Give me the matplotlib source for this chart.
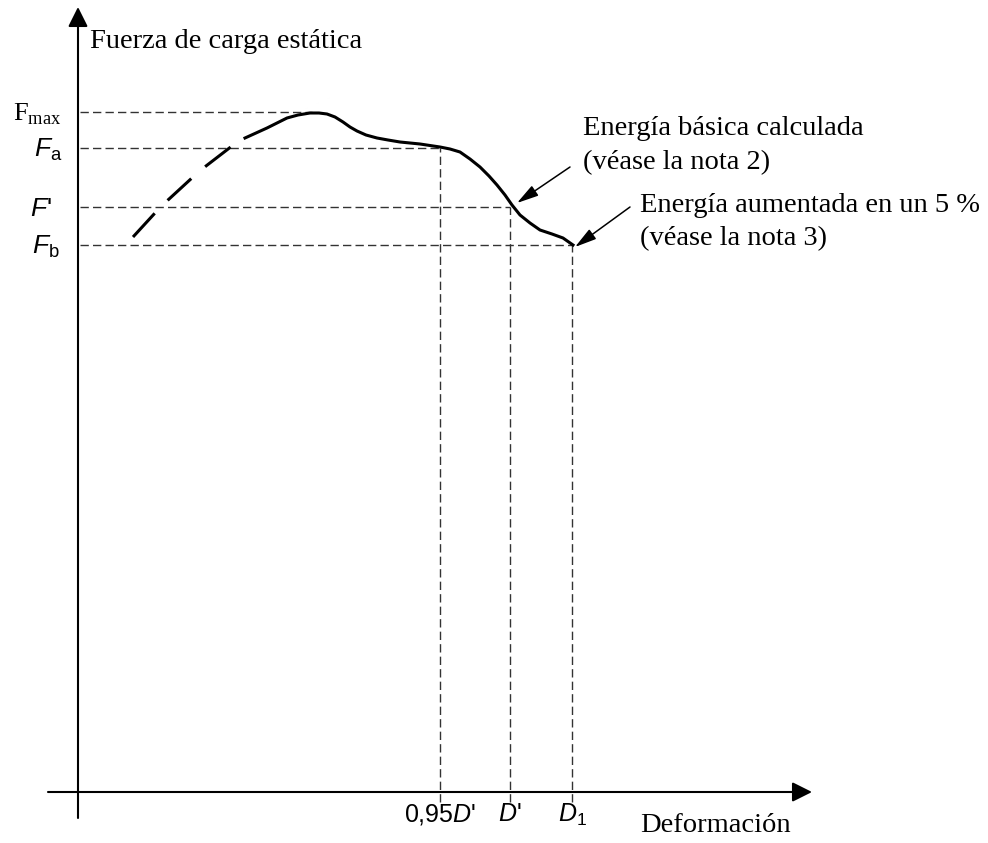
import matplotlib
matplotlib.use("Agg")
from matplotlib import pyplot as plt

# fonts: serif text like Times, tick symbols like Arial
plt.rcParams['font.family'] = 'Liberation Serif'
plt.rcParams['mathtext.fontset'] = 'custom'
plt.rcParams['mathtext.rm'] = 'Liberation Serif'
plt.rcParams['mathtext.it'] = 'Liberation Sans:italic'
plt.rcParams['mathtext.sf'] = 'Liberation Sans'

# values (units: pixels from the origin)
force_levels = [680, 644, 585, 547]          # Fmax, Fa, F', Fb
force_labels = [r'$\mathrm{F}_{\mathrm{max}}$', r'$F_{\mathsf{a}}$', r"$F$'", r'$F_{\mathsf{b}}$']
force_ends = [234, 362, 432, 494]            # where each dashed level line stops
deform_ticks = [362, 432, 494]               # 0,95D', D', D1
deform_labels = [r"0,95$D$'", r"$D$'", r'$D_{\mathsf{1}}$']
deform_tops = [644, 585, 547]

# rising part of the curve (drawn dashed)
rise_x = [55, 77, 90, 115, 128, 154]
rise_y = [555, 579, 592, 615, 626, 646]
# measured part of the curve (solid)
curve_x = [167, 178, 189, 199, 209, 220, 232, 241, 249, 257, 265, 272, 279, 288, 299, 310,
           322, 342, 362, 372, 382, 392, 402, 411, 419, 427, 434, 442, 452, 462, 474, 485, 495]
curve_y = [654, 659, 664, 669, 674, 677, 679, 679, 678, 675, 670, 665, 661, 657, 654, 652,
           650, 648, 645, 643, 640, 633, 625, 616, 607, 597, 587, 577, 569, 562, 558, 554, 547]

fig = plt.figure(figsize=(9.88, 8.43), dpi=100)
ax = fig.add_axes([0, 0, 1, 1])
ax.set_xlim(-78, 910)
ax.set_ylim(-51, 792)
ax.axis('off')

# axes with arrow heads
axis_arrow = dict(arrowstyle='-|>,head_length=0.6,head_width=0.3', mutation_scale=20,
                  lw=1.5, color='black', shrinkA=0, shrinkB=0)
ax.annotate('', xy=(0, 785), xytext=(0, -26), arrowprops=axis_arrow)
ax.annotate('', xy=(734, 0), xytext=(-30, 0), arrowprops=axis_arrow)

# dashed guide lines
guide = dict(color='#333333', lw=1.0, dashes=(6, 3))
for lvl, xe in zip(force_levels, force_ends):
    ax.plot([2, xe], [lvl, lvl], **guide)
for xt, yt in zip(deform_ticks, deform_tops):
    ax.plot([xt, xt], [-10, yt], **guide)

# curve
ax.plot(rise_x, rise_y, color='black', lw=2.2, dashes=(10.5, 6), solid_capstyle='butt')
ax.plot(curve_x, curve_y, color='black', lw=2.2, solid_joinstyle='round')

# labels on the force axis (baseline sits a bit below each level)
label_right = [-16, -16, -26, -18]
for lvl, lab, xr in zip(force_levels, force_labels, label_right):
    fam = 'Liberation Serif' if 'max' in lab else 'Liberation Sans'
    ax.text(xr, lvl - 9, lab, ha='right', va='baseline', fontsize=19, family=fam)
for xt, lab in zip(deform_ticks, deform_labels):
    ax.text(xt, -10, lab, ha='center', va='top', fontsize=18, family='Liberation Sans')

txt = dict(ha='left', va='baseline', fontsize=20.5)
ax.text(12, 744, 'Fuerza de carga estática', **txt)
ax.text(562, -40, 'Deformación', **txt)

ax.text(505, 657, 'Energía básica calculada', **txt)
ax.text(505, 623, '(véase la nota 2)', **txt)
ax.text(562, 580, 'Energía aumentada en un 5 %', **txt)
ax.text(562, 547, '(véase la nota 3)', **txt)

note_arrow = dict(arrowstyle='-|>,head_length=1.1,head_width=0.3', mutation_scale=12,
                  lw=1.1, color='black', shrinkA=0, shrinkB=0)
ax.annotate('', xy=(439, 589), xytext=(492, 625), arrowprops=note_arrow)
ax.annotate('', xy=(497, 545), xytext=(552, 585), arrowprops=note_arrow)

fig.savefig('out.png', dpi=100)
